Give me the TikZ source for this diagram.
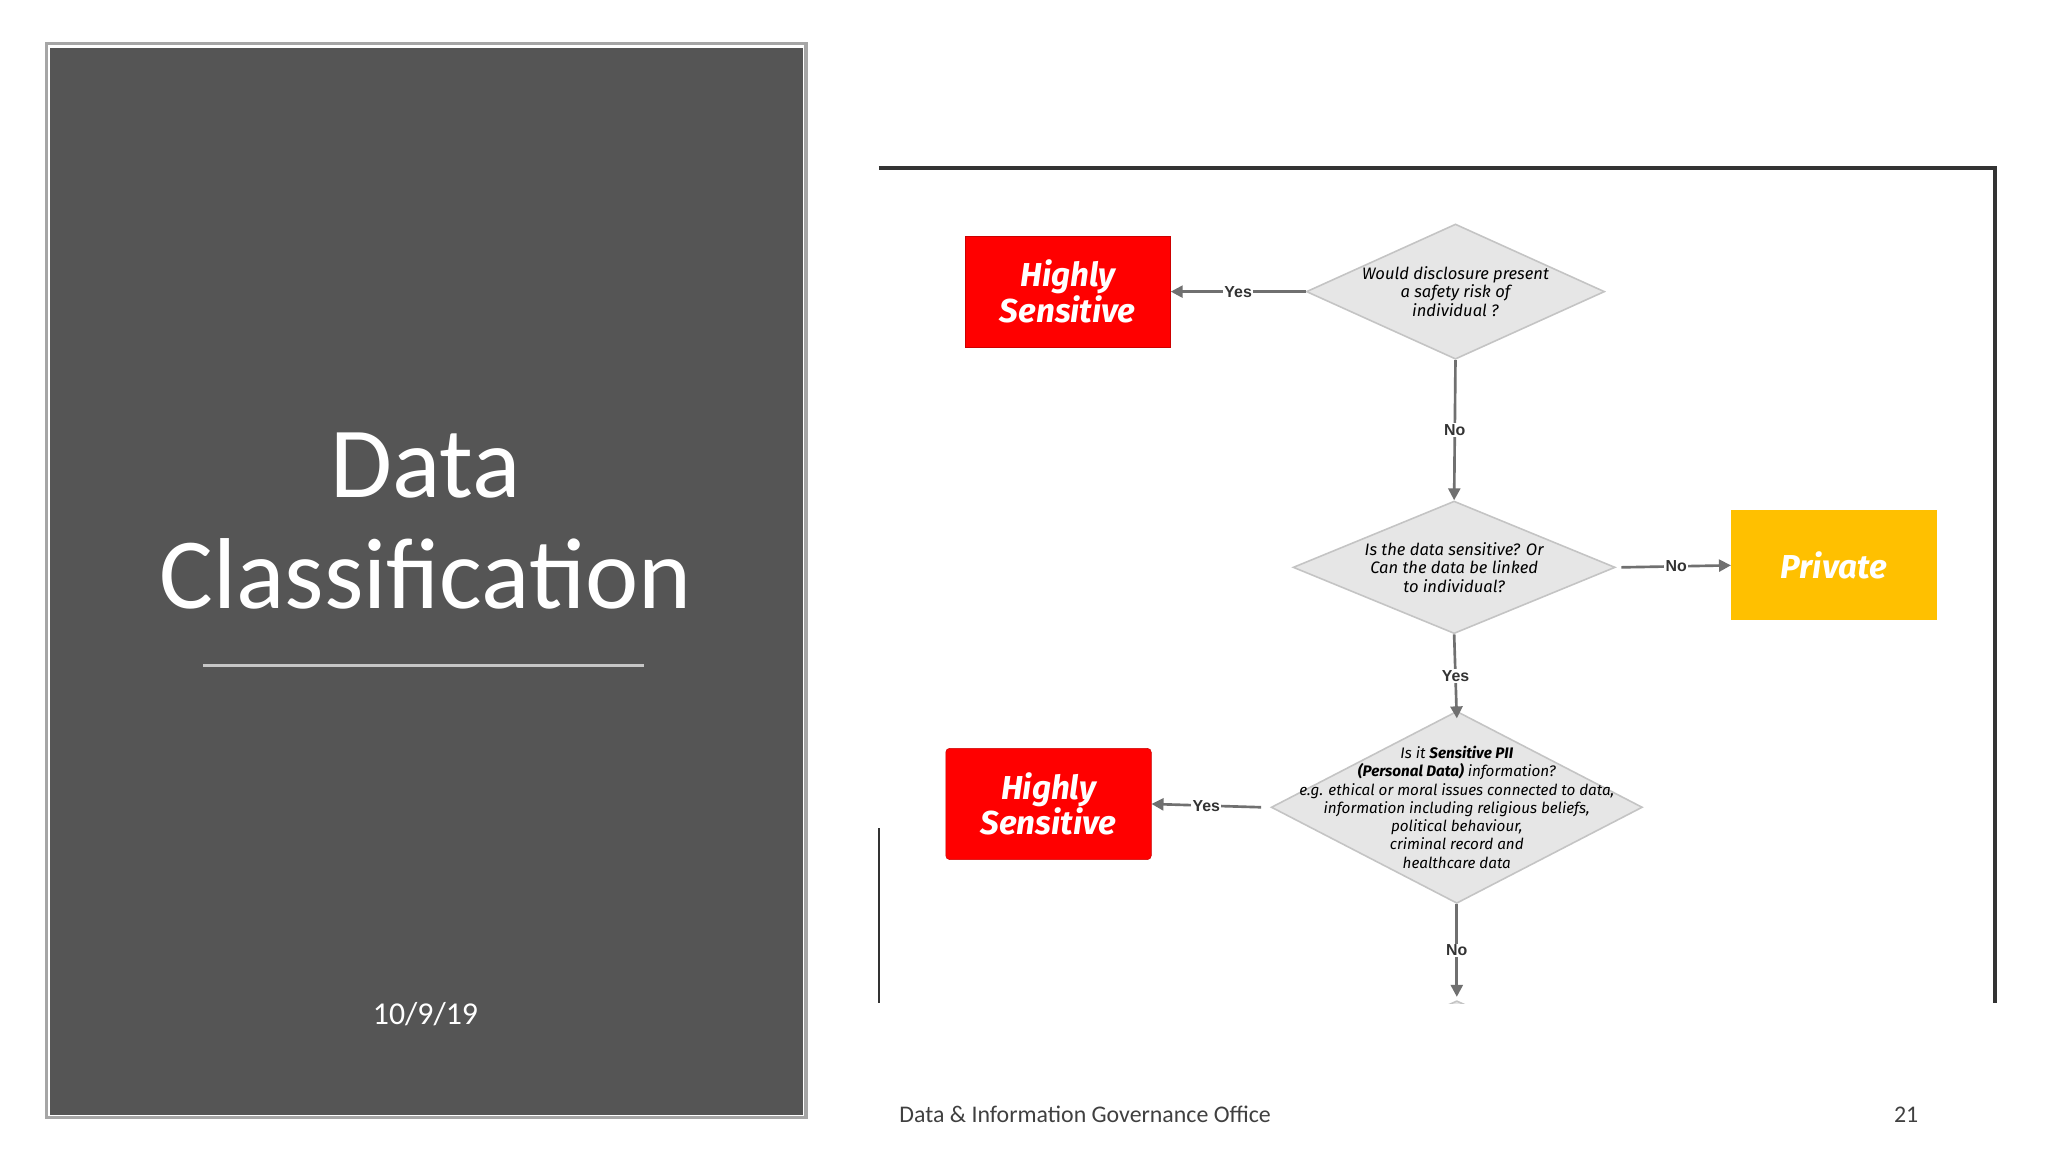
\documentclass[tikz,border=0pt]{standalone}
\usepackage{fontspec}
\setmainfont{Carlito}
\newfontfamily\hand{Fira Sans}
\newfontfamily\lab{Liberation Sans}
\usetikzlibrary{shapes.geometric,arrows.meta}
\definecolor{panel}{HTML}{555555}
\definecolor{dgray}{HTML}{E6E6E6}
\definecolor{dline}{HTML}{C4C4C4}
\definecolor{arr}{HTML}{707070}
\definecolor{hsred}{HTML}{FF0000}
\definecolor{priv}{HTML}{FFC000}
\tikzset{
 dec/.style={diamond,fill=dgray,draw=dline,line width=1.2pt,inner sep=0pt,shape aspect=2.2},
 dtext/.style={align=center,font=\hand\itshape\fontsize{12.5}{14}\selectfont},
 outbox/.style={minimum width=155pt,minimum height=84pt,text=white,align=center,font=\hand\bfseries\itshape\fontsize{25}{25}\selectfont},
 conn/.style={draw=arr,line width=2pt,-{Triangle[length=9pt,width=9pt]}},
 lbl/.style={fill=white,inner sep=1pt,font=\lab\bfseries\fontsize{12}{12}\selectfont,text=black!80}
}
\begin{document}
\begin{tikzpicture}[x=1pt,y=-1pt]
\useasboundingbox[fill=white] (0,0) rectangle (1545,869);
% left panel
\fill[panel] (38,36) rectangle (606,841);
\draw[gray!70,line width=2.5pt] (35,33) rectangle (608,843);
\node[white,font=\fontsize{76}{84}\selectfont,align=center] (title) at (321,393) {Data\\Classification};
\draw[gray!45,line width=2pt] (153,502) -- (486,502);
\node[white,font=\fontsize{24}{24}\selectfont] (date) at (321,765) {10/9/19};
\node[black!75,font=\fontsize{18}{18}\selectfont,anchor=west] (foot) at (675,841) {Data \& Information Governance Office};
\node[black!75,font=\fontsize{18}{18}\selectfont] (page) at (1438,841) {21};
% frame
\draw[black!80,line width=3pt] (663,127) -- (1505,127) -- (1505,757);
\draw[black!80,line width=1.5pt] (663,625) -- (663,757);
% nodes
\node[dec,minimum width=225pt,minimum height=102pt] (d1) at (1098,220) {};
\node[dtext] at (d1) {Would disclosure present\\a safety risk of\\individual ?};
\node[dec,minimum width=243pt,minimum height=100pt] (d2) at (1097,428) {};
\node[dtext] at (d2) {Is the data sensitive? Or\\Can the data be linked\\to individual?};
\node[dec,minimum width=280pt,minimum height=145pt] (d3) at (1099,609) {};
\node[dtext,font=\hand\itshape\fontsize{11.5}{13.8}\selectfont] at (d3) {Is it \textbf{Sensitive PII}\\\textbf{(Personal Data)} information?\\e.g. ethical or moral issues connected to data,\\information including religious beliefs,\\political behaviour,\\criminal record and\\healthcare data};
\node[outbox,fill=hsred,draw=red!80!black] (hs1) at (805.5,220) {Highly\\Sensitive};
\node[outbox,fill=hsred,draw=red!80!black,rounded corners=3pt] (hs2) at (791,606.5) {Highly\\Sensitive};
\node[outbox,fill=priv,minimum height=83pt] (pv) at (1383.5,426.5) {Private};
\begin{scope}
\clip (1000,740) rectangle (1200,757);
\node[dec,minimum width=225pt,minimum height=100pt] (d4) at (1099,805) {};
\end{scope}
\coordinate (d4top) at (1099,752);
% connectors
\draw[conn] (d1.west) -- node[lbl]{Yes} (hs1.east);
\draw[conn] (d1.south) -- node[lbl]{No} (d2.north);
\draw[conn] ([xshift=4pt]d2.east) -- node[lbl]{No} (pv.west);
\draw[conn] (d2.south) -- node[lbl]{Yes} ([yshift=-6pt]d3.north);
\draw[conn] ([xshift=-7pt]d3.west) -- node[lbl]{Yes} (hs2.east);
\draw[conn] (d3.south) -- node[lbl]{No} (d4top);
\end{tikzpicture}
\end{document}
